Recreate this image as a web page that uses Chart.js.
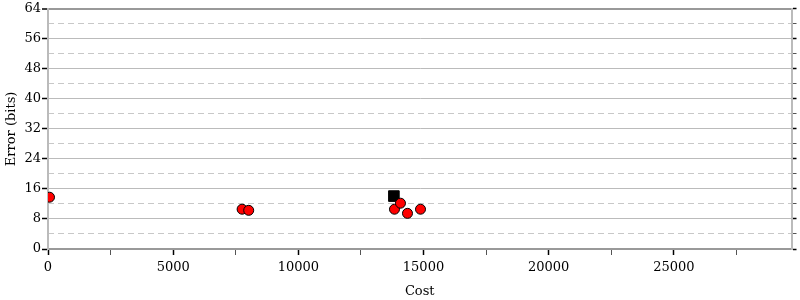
<!DOCTYPE html>
<html>
<head>
<meta charset="utf-8">
<script src="https://cdn.jsdelivr.net/npm/chart.js@4/dist/chart.umd.min.js"></script>
<style>
html,body{margin:0;padding:0;background:#fff;}
#wrap{width:800px;height:300px;position:relative;}
</style>
</head>
<body>
<div id="wrap"><canvas id="c" width="800" height="300"></canvas></div>
<script>
// Data
const otherCost  = [60, 7754, 8017, 13841, 14080, 14360, 14880];
const otherError = [13.8, 10.6, 10.3, 10.6, 12.2, 9.5, 10.6];
const bestCost  = [13817];
const bestError = [14.1];
const xTickValues = [0, 5000, 10000, 15000, 20000, 25000];
const xMinorTicks = [0, 2500, 5000, 7500, 10000, 12500, 15000, 17500, 20000, 22500, 25000, 27500];
const yTickValues = [0, 8, 16, 24, 32, 40, 48, 56, 64];
const yMinorTicks = [0, 4, 8, 12, 16, 20, 24, 28, 32, 36, 40, 44, 48, 52, 56, 60, 64];
const xMax = 29700, yMax = 64;
const xTitle = 'Cost', yTitle = 'Error (bits)';

const FONT = "'DejaVu Serif', serif";
Chart.defaults.font.family = FONT;
Chart.defaults.color = '#000';

const other = otherCost.map((x,i)=>({x, y: otherError[i]}));
const best = bestCost.map((x,i)=>({x, y: bestError[i]}));
const setTicks = arr => s => { s.ticks = arr.map(v => ({ value: v })); };

new Chart(document.getElementById('c'), {
  type: 'scatter',
  data: {
    datasets: [
      { label: 'other', data: other, backgroundColor: '#ff0000', borderColor: '#000',
        borderWidth: 1, pointRadius: 5, pointHoverRadius: 5 },
      { label: 'best', data: best, pointStyle: 'rect', backgroundColor: '#000', borderColor: '#000',
        borderWidth: 1, pointRadius: 7.5, pointHoverRadius: 7.5 }
    ]
  },
  options: {
    responsive: false,
    animation: false,
    events: [],
    layout: { padding: { top: 7, left: 0, right: 0, bottom: 0 } },
    plugins: { legend: { display: false }, tooltip: { enabled: false } },
    scales: {
      x: {
        type: 'linear', min: 0, max: xMax,
        position: 'bottom',
        afterBuildTicks: setTicks(xMinorTicks),
        afterFit: s => { s.height = 51; },
        title: { display: true, text: xTitle, font: { size: 13, family: FONT }, padding: { top: 4, bottom: 1 } },
        ticks: {
          maxRotation: 0, minRotation: 0, autoSkip: false,
          font: { size: 13, family: FONT }, padding: 5,
          callback: v => xTickValues.includes(v) ? String(v) : ''
        },
        grid: {
          drawOnChartArea: false, drawTicks: true, tickLength: 6,
          tickColor: ctx => (ctx.tick && ctx.tick.value % 5000 === 0) ? '#000' : '#555',
          tickWidth: ctx => (ctx.tick && ctx.tick.value % 5000 === 0) ? 1.5 : 1
        },
        border: { display: true, color: '#999', width: 2 }
      },
      y: {
        type: 'linear', min: 0, max: yMax, position: 'left',
        afterBuildTicks: setTicks(yTickValues),
        afterFit: s => { s.width = 48; },
        title: { display: true, text: yTitle, font: { size: 13, family: FONT }, padding: { bottom: 2 } },
        ticks: {
          autoSkip: false, font: { size: 13, family: FONT }, padding: 1,
          callback: v => String(v)
        },
        grid: {
          color: ctx => (ctx.tick && ctx.tick.value === yMax) ? '#999' : (ctx.tick && ctx.tick.value === 0 ? 'rgba(0,0,0,0)' : '#bbb'),
          lineWidth: ctx => (ctx.tick && ctx.tick.value === yMax) ? 2 : 1,
          tickLength: 6, tickColor: '#000', tickWidth: 1.5
        },
        border: { display: true, color: '#bbb', width: 2 }
      },
      yMinor: {
        type: 'linear', min: 0, max: yMax, position: 'left', display: true,
        afterBuildTicks: setTicks(yMinorTicks),
        afterFit: s => { s.width = 0; },
        ticks: { display: false, autoSkip: false },
        grid: {
          color: ctx => (ctx.tick && ctx.tick.value % 8 !== 0) ? '#c8c8c8' : 'rgba(0,0,0,0)',
          lineWidth: 1, drawTicks: false
        },
        border: { display: false, dash: [6, 4] }
      },
      yRight: {
        type: 'linear', min: 0, max: yMax, position: 'right',
        afterBuildTicks: setTicks(yMinorTicks),
        afterFit: s => { s.width = 7; },
        ticks: { display: false, autoSkip: false },
        grid: {
          drawOnChartArea: false, tickLength: 5,
          tickColor: ctx => (ctx.tick && ctx.tick.value % 8 === 0) ? '#000' : '#555',
          tickWidth: ctx => (ctx.tick && ctx.tick.value % 8 === 0) ? 1.5 : 1
        },
        border: { display: true, color: '#bbb', width: 2 }
      }
    }
  }
});
</script>
</body>
</html>
